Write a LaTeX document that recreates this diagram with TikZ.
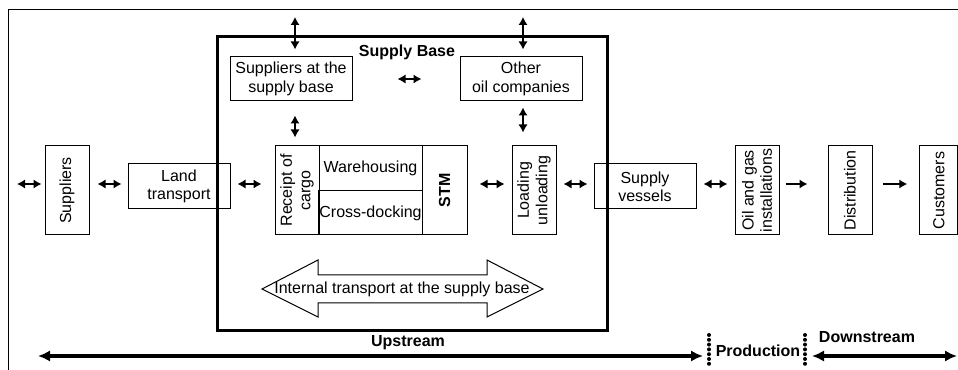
\documentclass[tikz,border=0pt]{standalone}
\usepackage{fontspec}
\setmainfont{Liberation Sans}
\usetikzlibrary{arrows.meta}
\usetikzlibrary{calc}
\usetikzlibrary{positioning}
\tikzset{
	box/.style={
		draw, line width=0.75pt, inner sep=1pt, align=center,
		font=\fontsize{12}{13.8}\selectfont
	},
	vbox/.style={box, rotate=90, minimum width=66.75pt, minimum height=33pt},
	hbox/.style={box, minimum width=76.5pt, minimum height=33.75pt},
	link/.style={line width=2pt, {Latex[length=6pt,width=7pt]}-{Latex[length=6pt,width=7pt]}},
	flow/.style={line width=2pt, -{Latex[length=6pt,width=7pt]}},
	span/.style={line width=2.5pt, {Latex[length=9pt,width=8.5pt]}-{Latex[length=9pt,width=8.5pt]}},
	divider/.style={line width=3pt, dash pattern=on 0pt off 3.6pt, line cap=round},
	title/.style={font=\bfseries\fontsize{12}{13.8}\selectfont, inner sep=0pt}
}

\begin{document}
\begin{tikzpicture}[x=0.75pt, y=-0.75pt]
\useasboundingbox (0,0) rectangle (958,370);
\draw[line width=0.75pt] (8,370) |- (958,10);
\coordinate (axis) at (0,184);

% chain of boxes (rotated boxes: north = left side, south = right side, east = top)
\node[vbox] (supl) at (67,190.5) {Suppliers};
\node[hbox] (land) at (179,186.5) {Land\\transport};
\node[vbox] (rc) at (297,190.5) {Receipt of\\cargo};
\node[box, minimum width=77.25pt, minimum height=33.75pt] (wh) at (370.5,168.5) {Warehousing};
\node[box, minimum width=77.25pt, minimum height=33pt] (cd) at (370.5,213) {Cross-docking};
\node[vbox, minimum height=33.75pt, font=\bfseries\fontsize{12}{13.8}\selectfont] (stm) at (444.5,190.5) {STM};
\node[vbox] (load) at (534,190.5) {Loading\\unloading};
\node[hbox] (sv) at (645,186.5) {Supply\\vessels};
\node[vbox] (oil) at (757,190.5) {Oil and gas\\installations};
\node[vbox] (dist) at (850,190.5) {Distribution};
\node[vbox, minimum height=28.5pt] (cust) at (938.75,190.5) {Customers};

% inside the supply base
\node[box, minimum width=91.5pt, minimum height=33pt] (sab) at (291,79) {Suppliers at the\\supply base};
\node[box, minimum width=91.5pt, minimum height=33pt] (ooc) at (521,79) {Other\\oil companies};
\node[draw, line width=2.25pt, minimum width=292.5pt, minimum height=220.5pt] (base) at (412,184) {};
\node[title] (basetitle) at (407,52) {Supply Base};

\coordinate (top-s) at (295,17);
\coordinate (top-o) at (523,17);
\draw[link, shorten >=5.25pt] (top-s) -- (top-s |- sab.north);
\draw[link, shorten >=5.25pt] (top-o) -- (top-o |- ooc.north);
\draw[link, shorten <=33.75pt, shorten >=28.5pt] (sab.east) -- (ooc.west);
\draw[link, shorten <=10.5pt, shorten >=6pt] (top-s |- sab.south) -- (top-s |- wh.north);
\draw[link, shorten <=4.5pt, shorten >=9.75pt] (top-o |- ooc.south) -- (top-o |- load.east);

\coordinate (in-l) at (17,184);
\draw[link, shorten >=2.25pt] (in-l) -- (supl.north |- axis);
\draw[link, shorten <=6pt, shorten >=4.5pt] (supl.south |- axis) -- (land.west |- axis);
\draw[link, shorten <=5.25pt, shorten >=9.75pt] (land.east |- axis) -- (rc.north |- axis);
\draw[link, shorten <=9pt, shorten >=5.25pt] (stm.south |- axis) -- (load.north |- axis);
\draw[link, shorten <=5.25pt, shorten >=4.5pt] (load.south |- axis) -- (sv.west |- axis);
\draw[link, shorten <=5.25pt, shorten >=5.25pt] (sv.east |- axis) -- (oil.north |- axis);
\draw[flow, shorten <=4.5pt, shorten >=15pt] (oil.south |- axis) -- (dist.north |- axis);
\draw[flow, shorten <=7.5pt, shorten >=9pt] (dist.south |- axis) -- (cust.north |- axis);

% internal transport
\draw[line width=0.75pt] (262,289) -- (318,260) -- (318,275) -- (487,275) -- (487,260)
	-- (543,289) -- (487,317) -- (487,303) -- (318,303) -- (318,317) -- cycle;
\node[font=\fontsize{12}{13.8}\selectfont, inner sep=0pt] (intl) at (402,289) {Internal transport at the supply base};

% value chain
\coordinate (up-l) at (38,356);
\coordinate (up-r) at (703,356);
\coordinate (dn-l) at (812,356);
\coordinate (dn-r) at (957,356);
\draw[span] (up-l) -- (up-r);
\draw[span] (dn-l) -- (dn-r);
\draw[divider] (709,335) -- (709,366);
\draw[divider] (805,335) -- (805,366);
\node[title] (upstream) at (408,343) {Upstream};
\node[title] (production) at (758,351) {Production};
\node[title] (downstream) at (867,337) {Downstream};
\end{tikzpicture}
\end{document}
